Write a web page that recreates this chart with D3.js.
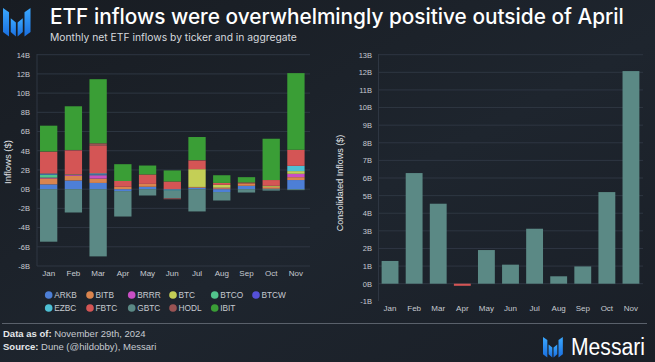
<!DOCTYPE html>
<html><head><meta charset="utf-8">
<script src="https://cdn.jsdelivr.net/npm/d3@7"></script>
<style>
html,body{margin:0;padding:0;background:#1b2028;overflow:hidden}
svg{display:block}
</style></head>
<body>
<script>
const months = ["Jan","Feb","Mar","Apr","May","Jun","Jul","Aug","Sep","Oct","Nov"];
const tickers = ["ARKB","BITB","BRRR","BTC","BTCO","BTCW","EZBC","FBTC","GBTC","HODL","IBIT"];
const ARKB = [0.5, 0.9, 0.65, -0.2, 0.25, -0.05, 0.15, -0.3, 0.35, 0.05, 0.95];
const BITB = [0.62, 0.5, 0.45, 0.25, 0.3, 0, 0.08, 0.1, 0.25, 0.2, 0.3];
const BRRR = [0.08, 0.08, 0.35, 0, 0, 0, 0, 0.05, 0, 0, 0.35];
const BTC  = [0, 0, 0, 0, 0, 0, 1.85, 0.3, 0, 0.1, 0.28];
const BTCO = [0.3, 0.05, 0.05, 0, 0, 0, 0, 0, 0, 0, 0];
const BTCW = [0.05, 0, 0.05, 0, 0, 0, 0, 0, 0, 0, 0];
const EZBC = [0.08, 0, 0.1, 0, 0, -0.1, 0, 0, 0, 0, 0.55];
const FBTC = [2.25, 2.5, 2.85, 0.6, 0.98, 0.8, 0.9, 0.2, 0.1, 0.6, 1.67];
const GBTC = [-5.47, -2.43, -7.0, -2.65, -0.66, -0.8, -2.32, -0.88, -0.35, -0.15, -0.1];
const HODL = [0.05, 0.05, 0.28, 0, 0, -0.1, 0.05, 0, 0, 0, 0];
const IBIT = [2.68, 4.55, 6.67, 1.75, 0.93, 1.15, 2.4, 0.8, 0.55, 4.3, 7.98];
const consolidated = [1.29, 6.28, 4.54, -0.12, 1.91, 1.08, 3.12, 0.42, 0.98, 5.2, 12.07];
const leftTicks = [-8,-6,-4,-2,0,2,4,6,8,10,12,14];
const rightTicks = [-1,0,1,2,3,4,5,6,7,8,9,10,11,12,13];

const series = {ARKB,BITB,BRRR,BTC,BTCO,BTCW,EZBC,FBTC,GBTC,HODL,IBIT};
const colors = {ARKB:"#4d7fd6",BITB:"#d9844e",BRRR:"#c94fc4",BTC:"#c4cf56",BTCO:"#52c48c",BTCW:"#5550d8",EZBC:"#4ec0d4",FBTC:"#d45555",GBTC:"#5b8985",HODL:"#9a5353",IBIT:"#3a9e36"};

const W=655,H=362;
const svg=d3.select("body").append("svg").attr("width",W).attr("height",H);
const defs=svg.append("defs");
const bg=defs.append("linearGradient").attr("id","bg").attr("x1","0").attr("y1","0").attr("x2","1").attr("y2","1");
bg.append("stop").attr("offset","0%").attr("stop-color","#181c22");
bg.append("stop").attr("offset","55%").attr("stop-color","#1e252e");
bg.append("stop").attr("offset","100%").attr("stop-color","#1a1f27");
svg.append("rect").attr("width",W).attr("height",H).attr("fill","url(#bg)");
const lg=defs.append("linearGradient").attr("id","logo").attr("x1","0").attr("y1","0").attr("x2","0").attr("y2","1");
lg.append("stop").attr("offset","0%").attr("stop-color","#3aa8ff");
lg.append("stop").attr("offset","100%").attr("stop-color","#1a6fe0");

function logo(g,s){
  const shapes=[
    [[0,0],[7,5],[7,33],[0,28]],
    [[9,12],[15,17],[15,33],[9,28]],
    [[17,17],[23,12],[23,28],[17,33]],
    [[25,5],[32,0],[32,28],[25,33]]
  ];
  g.selectAll("path").data(shapes).join("path")
    .attr("d",d=>"M"+d.map(p=>[p[0]*s,p[1]*s].join(",")).join("L")+"Z")
    .attr("fill","url(#logo)");
}
logo(svg.append("g").attr("transform","translate(3,8)"),0.86);

const font="Inter, 'Liberation Sans', Arial, sans-serif";
svg.append("text").attr("x",50).attr("y",24).attr("fill","#ffffff")
  .attr("font-family",font).attr("font-size",20.8).attr("font-weight",500)
  .text("ETF inflows were overwhelmingly positive outside of April");
svg.append("text").attr("x",50).attr("y",41).attr("fill","#d6d9de")
  .attr("font-family",font).attr("font-size",10.3)
  .text("Monthly net ETF inflows by ticker and in aggregate");

const tickFont="'Liberation Sans', Arial, sans-serif";

// LEFT CHART
const xL=d3.scaleBand().domain(months).range([36.3,308.3]).paddingInner(0.3).paddingOuter(0.15);
const yL=d3.scaleLinear().domain([-8,14]).range([266,54.7]);
const gL=svg.append("g");
gL.append("g").selectAll("line").data(leftTicks).join("line")
  .attr("x1",37).attr("x2",310).attr("y1",d=>yL(d)).attr("y2",d=>yL(d))
  .attr("stroke","#2e3642").attr("stroke-width",1);
gL.append("line").attr("x1",37).attr("x2",37).attr("y1",54).attr("y2",266).attr("stroke","#2e3642");
const axL=d3.axisLeft(yL).tickValues(leftTicks).tickFormat(d=>d+"B").tickSize(0).tickPadding(4);
const axLg=gL.append("g").attr("transform","translate(34,0)").call(axL);
axLg.select(".domain").remove();
axLg.selectAll("text").attr("fill","#c6cad0").attr("font-size",7.5).attr("font-family",tickFont);

const rows=months.map((m,i)=>{const o={month:m};tickers.forEach(t=>o[t]=series[t][i]);return o;});
const stack=d3.stack().keys(tickers).offset(d3.stackOffsetDiverging);
const stacked=stack(rows);
gL.append("g").selectAll("g").data(stacked).join("g").attr("fill",d=>colors[d.key])
  .selectAll("rect").data(d=>d).join("rect")
  .attr("x",d=>xL(d.data.month)).attr("width",xL.bandwidth())
  .attr("y",d=>yL(Math.max(d[0],d[1]))).attr("height",d=>Math.abs(yL(d[0])-yL(d[1])));
const axLx=d3.axisBottom(xL).tickSize(0).tickPadding(0);
const axLxg=gL.append("g").attr("transform","translate(0,270)").call(axLx);
axLxg.select(".domain").remove();
axLxg.selectAll("text").attr("fill","#c6cad0").attr("font-size",8).attr("font-family",tickFont);

gL.append("text").attr("transform","translate(11,162) rotate(-90)").attr("text-anchor","middle")
  .attr("fill","#e0e3e7").attr("font-size",9.5).attr("font-family",tickFont).text("Inflows ($)");

// Legend
const legX=[48.7,90,131.7,173,214.7,256];
const leg=svg.append("g").selectAll("g").data(tickers).join("g")
  .attr("transform",(d,i)=>`translate(${legX[i%6]},${i<6?295:308})`);
leg.append("circle").attr("r",3.8).attr("fill",d=>colors[d]);
leg.append("text").attr("x",5.5).attr("y",3).attr("fill","#c6cad0").attr("font-size",8.3)
  .attr("font-family",tickFont).text(d=>d);

// RIGHT CHART
const xR=d3.scaleBand().domain(months).range([378,643]).paddingInner(0.3).paddingOuter(0.15);
const yR=d3.scaleLinear().domain([-1,13]).range([301.3,54.7]);
const gR=svg.append("g");
gR.append("g").selectAll("line").data(rightTicks.filter(d=>d>=0)).join("line")
  .attr("x1",378).attr("x2",643).attr("y1",d=>yR(d)).attr("y2",d=>yR(d))
  .attr("stroke","#2e3642");
gR.append("line").attr("x1",378.5).attr("x2",378.5).attr("y1",54).attr("y2",301).attr("stroke","#2e3642");
const axR=d3.axisLeft(yR).tickValues(rightTicks).tickFormat(d=>d+"B").tickSize(0).tickPadding(4);
const axRg=gR.append("g").attr("transform","translate(376,0)").call(axR);
axRg.select(".domain").remove();
axRg.selectAll("text").attr("fill","#c6cad0").attr("font-size",7.5).attr("font-family",tickFont);
gR.append("g").selectAll("rect").data(consolidated).join("rect")
  .attr("x",(d,i)=>xR(months[i])).attr("width",xR.bandwidth())
  .attr("y",d=>yR(Math.max(0,d))).attr("height",d=>Math.abs(yR(d)-yR(0)))
  .attr("fill",d=>d<0?"#d45555":"#5b8985");
const axRx=d3.axisBottom(xR).tickSize(0).tickPadding(0);
const axRxg=gR.append("g").attr("transform","translate(0,305)").call(axRx);
axRxg.select(".domain").remove();
axRxg.selectAll("text").attr("fill","#c6cad0").attr("font-size",8).attr("font-family",tickFont);
gR.append("text").attr("transform","translate(343,183) rotate(-90)").attr("text-anchor","middle")
  .attr("fill","#e0e3e7").attr("font-size",9).attr("font-family",tickFont).text("Consolidated Inflows ($)");

// Footer
svg.append("line").attr("x1",2).attr("x2",647).attr("y1",323.5).attr("y2",323.5).attr("stroke","#5a616b").attr("stroke-width",1);
const f1=svg.append("text").attr("x",3).attr("y",337).attr("fill","#e6e8eb").attr("font-size",9.5).attr("font-family",tickFont);
f1.append("tspan").attr("font-weight","bold").text("Data as of: ");
f1.append("tspan").attr("fill","#c6cad0").text("November 29th, 2024");
const f2=svg.append("text").attr("x",3).attr("y",350).attr("fill","#e6e8eb").attr("font-size",9.5).attr("font-family",tickFont);
f2.append("tspan").attr("font-weight","bold").text("Source: ");
f2.append("tspan").attr("fill","#c6cad0").text("Dune (@hildobby), Messari");
logo(svg.append("g").attr("transform","translate(543,337)"),0.62);
svg.append("text").attr("x",571).attr("y",355).attr("fill","#ffffff").attr("font-size",23)
  .attr("font-family",tickFont).attr("textLength",74).attr("lengthAdjust","spacingAndGlyphs")
  .text("Messari");
</script>
</body></html>
